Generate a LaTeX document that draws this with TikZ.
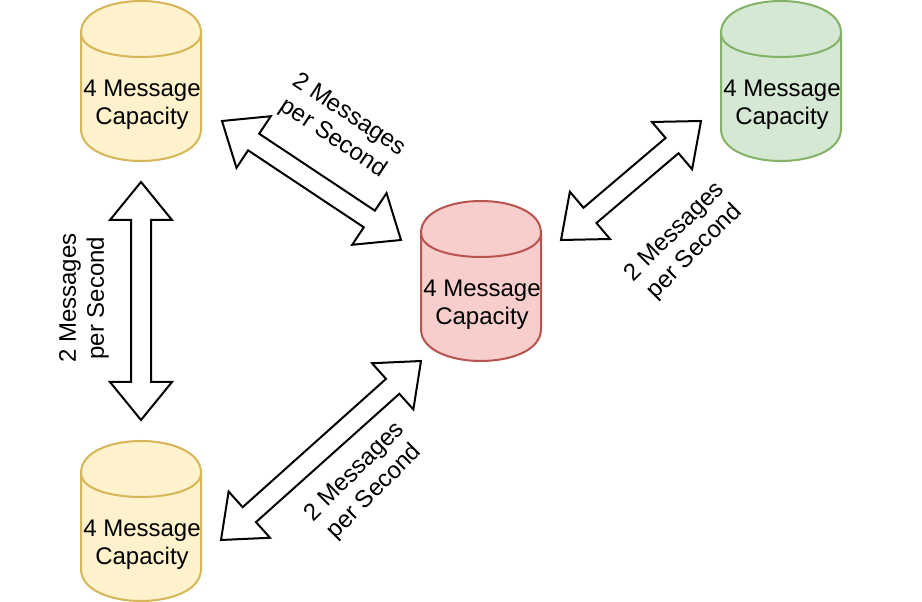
\documentclass[tikz,border=0pt]{standalone}
\usepackage{fontspec}
\setmainfont{Liberation Sans}
\usetikzlibrary{calc,positioning}
\definecolor{yellowfill}{HTML}{FFF2CC}
\definecolor{yellowline}{HTML}{D6B656}
\definecolor{redfill}{HTML}{F8CECC}
\definecolor{redline}{HTML}{B85450}
\definecolor{greenfill}{HTML}{D5E8D4}
\definecolor{greenline}{HTML}{82B366}
\tikzset{
	txt/.style={align=center, font=\fontsize{18pt}{21pt}\selectfont, inner sep=0pt},
	blockarrow/.style={draw=black, fill=white, line width=1.5pt, line join=miter},
	yellowdb/.style={draw=yellowline, fill=yellowfill, line width=1.5pt},
	reddb/.style={draw=redline, fill=redfill, line width=1.5pt},
	greendb/.style={draw=greenline, fill=greenfill, line width=1.5pt},
}
% #1 style, #2 name, #3 left, #4 top of a 120x160 store
\newcommand{\msgstore}[4]{
	\draw[#1] (#3,#4+32) .. controls (#3,#4-10.67) and (#3+120,#4-10.67) .. (#3+120,#4+32)
		-- (#3+120,#4+128) .. controls (#3+120,#4+170.67) and (#3,#4+170.67) .. (#3,#4+128) -- cycle;
	\draw[#1, fill=none] (#3,#4+32) .. controls (#3,#4+64) and (#3+120,#4+64) .. (#3+120,#4+32);
	\node[txt] (#2) at (#3+61,#4+104) {4 Message\\Capacity};
}
% #1, #2 tips
\newcommand{\blockarrow}[2]{
	\draw[blockarrow] (#1)
		-- ($(#1)!28.5pt!(#2)!23.25pt!90:(#2)$)
		-- ($(#1)!28.5pt!(#2)!7.5pt!90:(#2)$)
		-- ($(#2)!28.5pt!(#1)!7.5pt!-90:(#1)$)
		-- ($(#2)!28.5pt!(#1)!23.25pt!-90:(#1)$)
		-- (#2)
		-- ($(#2)!28.5pt!(#1)!23.25pt!90:(#1)$)
		-- ($(#2)!28.5pt!(#1)!7.5pt!90:(#1)$)
		-- ($(#1)!28.5pt!(#2)!7.5pt!-90:(#2)$)
		-- ($(#1)!28.5pt!(#2)!23.25pt!-90:(#2)$)
		-- cycle;
}
\begin{document}
\begin{tikzpicture}[x=0.75pt, y=-0.75pt]
	\useasboundingbox (0,0) rectangle (922,602);
	\msgstore{yellowdb}{storeA}{81}{1}
	\msgstore{yellowdb}{storeB}{81}{441}
	\msgstore{reddb}{storeC}{421}{201}
	\msgstore{greendb}{storeD}{721}{1}
	
	\coordinate (a1) at (141,182);
	\coordinate (a2) at (141,420);
	\coordinate (b1) at (222,121);
	\coordinate (b2) at (401,240);
	\coordinate (c1) at (561,240);
	\coordinate (c2) at (701,121);
	\coordinate (d1) at (221,540);
	\coordinate (d2) at (421,361);
	\blockarrow{a1}{a2}
	\blockarrow{b1}{b2}
	\blockarrow{c1}{c2}
	\blockarrow{d1}{d2}
	
	\node[txt, rotate=90] (rateA) at (84,298) {2 Messages\\per Second};
	\node[txt, rotate=-33.6] (rateB) at (341,127) {2 Messages\\per Second};
	\node[txt, rotate=45] (rateC) at (685,242) {2 Messages\\per Second};
	\node[txt, rotate=45] (rateD) at (365,482) {2 Messages\\per Second};
\end{tikzpicture}
\end{document}
